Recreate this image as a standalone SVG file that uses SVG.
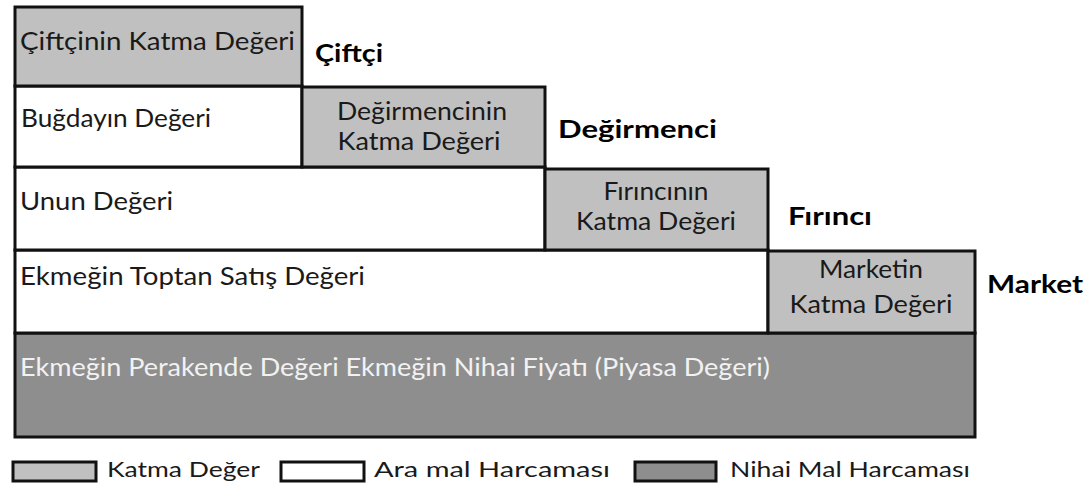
<svg xmlns="http://www.w3.org/2000/svg" width="1088" height="485" viewBox="0 0 1088 485">
<style>
.bx{stroke:#111;stroke-width:3}
.kd{fill:#c0c0c0}
.am{fill:#ffffff}
.nm{fill:#8e8e8e}
text{font-family:Lato,"Open Sans","Liberation Sans",sans-serif;font-size:24.5px;fill:#1a1a1a}
.b{font-weight:bold;font-size:25px;fill:#000}
.c{text-anchor:middle}
.w{fill:#f2f2f2}
.lg{font-size:22px}
</style>
<rect width="1088" height="485" fill="#fff"/>
<g id="nihai">
<rect class="bx nm" x="15" y="333" width="960" height="104"/>
<text class="w" x="20" y="376" textLength="750" lengthAdjust="spacingAndGlyphs">Ekmeğin Perakende Değeri Ekmeğin Nihai Fiyatı (Piyasa Değeri)</text>
</g>
<g id="toptan">
<rect class="bx am" x="15" y="250" width="753" height="83"/>
<text x="20" y="285" textLength="345" lengthAdjust="spacingAndGlyphs">Ekmeğin Toptan Satış Değeri</text>
</g>
<g id="market-kd">
<rect class="bx kd" x="768" y="251" width="207" height="82"/>
<text class="c" x="871" y="278" textLength="104" lengthAdjust="spacingAndGlyphs">Marketin</text>
<text class="c" x="871" y="313" textLength="163" lengthAdjust="spacingAndGlyphs">Katma Değeri</text>
</g>
<g id="market"><text class="b" x="987" y="293" textLength="96" lengthAdjust="spacingAndGlyphs">Market</text></g>
<g id="un">
<rect class="bx am" x="15" y="167" width="530" height="83"/>
<text x="20" y="210" textLength="153" lengthAdjust="spacingAndGlyphs">Unun Değeri</text>
</g>
<g id="firinci-kd">
<rect class="bx kd" x="545" y="169" width="223" height="81"/>
<text class="c" x="656" y="200" textLength="105" lengthAdjust="spacingAndGlyphs">Fırıncının</text>
<text class="c" x="656" y="230" textLength="160" lengthAdjust="spacingAndGlyphs">Katma Değeri</text>
</g>
<g id="firinci"><text class="b" x="788" y="225" textLength="84" lengthAdjust="spacingAndGlyphs">Fırıncı</text></g>
<g id="bugday">
<rect class="bx am" x="15" y="86" width="287" height="81"/>
<text x="21" y="127" textLength="190" lengthAdjust="spacingAndGlyphs">Buğdayın Değeri</text>
</g>
<g id="degirmenci-kd">
<rect class="bx kd" x="302" y="87" width="243" height="80"/>
<text class="c" x="422" y="120" textLength="170" lengthAdjust="spacingAndGlyphs">Değirmencinin</text>
<text class="c" x="419" y="150" textLength="163" lengthAdjust="spacingAndGlyphs">Katma Değeri</text>
</g>
<g id="degirmenci"><text class="b" x="558" y="138" textLength="159" lengthAdjust="spacingAndGlyphs">Değirmenci</text></g>
<g id="ciftci-kd">
<rect class="bx kd" x="15" y="7" width="287" height="79"/>
<text x="20" y="50" textLength="275" lengthAdjust="spacingAndGlyphs">Çiftçinin Katma Değeri</text>
</g>
<g id="ciftci"><text class="b" x="315" y="62" textLength="68" lengthAdjust="spacingAndGlyphs">Çiftçi</text></g>
<g id="legend">
<rect class="bx kd" x="13" y="462" width="83" height="19"/>
<text class="lg" x="107" y="477" textLength="153" lengthAdjust="spacingAndGlyphs">Katma Değer</text>
<rect class="bx am" x="281" y="462" width="83" height="19"/>
<text class="lg" x="374" y="477" textLength="236" lengthAdjust="spacingAndGlyphs">Ara  mal  Harcaması</text>
<rect class="bx nm" x="635" y="462" width="81" height="19"/>
<text class="lg" x="730" y="477" textLength="240" lengthAdjust="spacingAndGlyphs">Nihai Mal Harcaması</text>
</g>
</svg>
